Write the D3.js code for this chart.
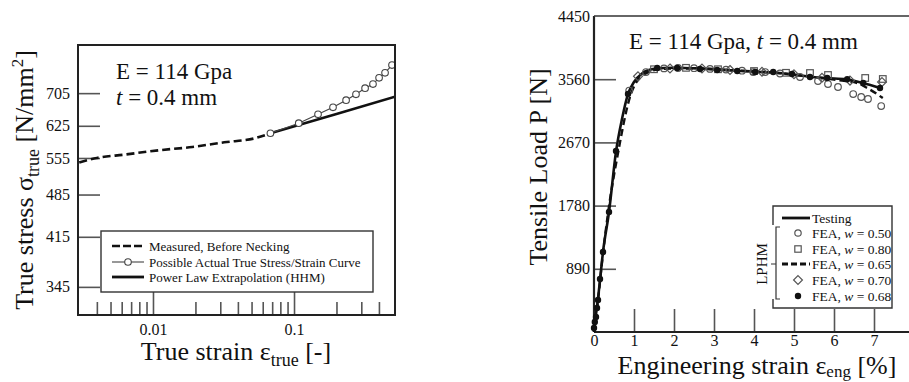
<!DOCTYPE html>
<html>
<head>
<meta charset="utf-8">
<script src="https://cdn.jsdelivr.net/npm/d3@7"></script>
<style>
  body { margin: 0; background: #fff; }
  svg { display: block; font-family: "Liberation Serif", "Times New Roman", serif; }
</style>
</head>
<body>
<div id="wrapper"></div>
<script>
// ---- left panel: true stress vs true strain (log-log) ----
const measuredStrain = [0.003, 0.004, 0.0063, 0.011, 0.019, 0.032, 0.053, 0.068]
const measuredStress = [546, 555, 562, 571, 578, 588, 597, 608]
const actualStrain = [0.068, 0.108, 0.148, 0.189, 0.234, 0.275, 0.319, 0.363, 0.401, 0.442, 0.495]
const actualStress = [608, 631, 652, 669, 687, 702, 718, 729, 746, 760, 782]
const powerStrain = [0.068, 0.2, 0.52]
const powerStress = [608, 653, 696]
const stressTicks = [345, 415, 485, 555, 625, 705]
const strainMajor = [0.01, 0.1]
const strainMinor = [0.004, 0.005, 0.006, 0.007, 0.008, 0.009, 0.02, 0.03, 0.04, 0.05, 0.06, 0.07, 0.08, 0.09, 0.2, 0.3, 0.4]

// ---- right panel: tensile load vs engineering strain ----
const testStrain = [0, 0.05, 0.1, 0.15, 0.225, 0.375, 0.55, 0.7, 0.85, 1.0, 1.2, 1.5, 2.0, 2.6, 3.1, 3.6, 4.0, 4.5, 5.0, 5.4, 5.8, 6.3, 6.7, 7.15]
const testLoad = [0, 250, 470, 730, 1127, 1690, 2540, 3000, 3350, 3520, 3640, 3705, 3722, 3712, 3695, 3680, 3665, 3655, 3625, 3595, 3575, 3560, 3510, 3436]
const w050Strain = [0.88, 1.3, 1.75, 2.1, 2.5, 2.9, 3.3, 3.7, 3.98, 4.28, 4.65, 5.15, 5.6, 5.85, 6.1, 6.48, 6.68, 6.85, 7.18]
const w050Load = [3400, 3661, 3712, 3718, 3715, 3705, 3695, 3680, 3661, 3661, 3640, 3591, 3534, 3492, 3450, 3351, 3309, 3281, 3182]
const w080Strain = [1.5, 2.3, 3.1, 4.0, 4.8, 5.4, 5.85, 6.78, 7.22]
const w080Load = [3700, 3720, 3700, 3675, 3650, 3647, 3619, 3577, 3563]
const w065Strain = [0, 0.1, 0.2, 0.35, 0.6, 0.9, 1.25, 1.7, 2.5, 3.5, 4.5, 5.5, 6.2, 6.58, 6.83, 7.22]
const w065Load = [0, 440, 980, 1670, 2520, 3310, 3625, 3705, 3712, 3685, 3650, 3590, 3540, 3506, 3436, 3295]
const w070Strain = [1.1, 1.9, 2.7, 3.4, 4.2, 5.0, 5.7, 6.4, 7.2]
const w070Load = [3600, 3712, 3710, 3690, 3665, 3630, 3580, 3540, 3520]
const w068Strain = [0, 0.02, 0.05, 0.075, 0.1, 0.15, 0.225, 0.375, 0.55, 0.85, 1.58, 2.08, 2.65, 3.08, 3.58, 4.03, 4.48, 4.95, 5.4, 5.83, 6.33, 6.73, 7.15]
const w068Load = [56, 141, 211, 338, 451, 746, 1127, 1690, 2549, 3352, 3718, 3718, 3704, 3690, 3676, 3661, 3661, 3633, 3591, 3577, 3560, 3506, 3436]
const loadTicks = [890, 1780, 2670, 3560, 4450]
const engTicks = [0, 1, 2, 3, 4, 5, 6, 7]

const zip = (a, b) => a.map((v, i) => [v, b[i]])

const svg = d3.select('#wrapper')
    .append('svg')
    .attr('width', 909)
    .attr('height', 382)
svg.append('rect').attr('width', 909).attr('height', 382).attr('fill', '#fff')

//! left panel
const L = { left: 78, right: 395, top: 45, bottom: 315 }
const xL = d3.scaleLog().domain([0.00294, 0.52]).range([L.left, L.right])
const yL = d3.scaleLog().domain([311, 842]).range([L.bottom, L.top])

const left = svg.append('g')
left.append('defs').append('clipPath').attr('id', 'clipL')
    .append('rect').attr('x', L.left).attr('y', L.top)
    .attr('width', L.right - L.left).attr('height', L.bottom - L.top)

// y ticks pointing inward
const yAxisL = left.append('g')
    .attr('transform', `translate(${L.left},0)`)
    .call(d3.axisLeft(yL).tickValues(stressTicks).tickFormat(d3.format('d')).tickSize(-22).tickPadding(8))
yAxisL.select('.domain').remove()

const xMajorL = left.append('g')
    .attr('transform', `translate(0,${L.bottom})`)
    .call(d3.axisBottom(xL).tickValues(strainMajor).tickFormat(d => d).tickSize(-23).tickPadding(9))
xMajorL.select('.domain').remove()
const xMinorL = left.append('g')
    .attr('transform', `translate(0,${L.bottom})`)
    .call(d3.axisBottom(xL).tickValues(strainMinor).tickFormat('').tickSize(-13))
xMinorL.select('.domain').remove()

left.selectAll('.tick line').attr('stroke', '#555').attr('stroke-width', 1.6)
left.selectAll('.tick text').attr('font-size', 16).attr('fill', '#111')
    .attr('font-family', '"Liberation Serif", serif')

const lineL = d3.line().x(d => xL(d[0])).y(d => yL(d[1]))
const plotL = left.append('g').attr('clip-path', 'url(#clipL)')
plotL.append('path')
    .datum(zip(measuredStrain, measuredStress))
    .attr('d', lineL.curve(d3.curveMonotoneX))
    .attr('fill', 'none').attr('stroke', '#111').attr('stroke-width', 2.6)
    .attr('stroke-dasharray', '8,4')
plotL.append('path')
    .datum(zip(powerStrain, powerStress))
    .attr('d', d3.line().x(d => xL(d[0])).y(d => yL(d[1])))
    .attr('fill', 'none').attr('stroke', '#111').attr('stroke-width', 2.6)
plotL.append('path')
    .datum(zip(actualStrain, actualStress))
    .attr('d', d3.line().x(d => xL(d[0])).y(d => yL(d[1])))
    .attr('fill', 'none').attr('stroke', '#444').attr('stroke-width', 1.1)
plotL.selectAll('.circ')
    .data(zip(actualStrain, actualStress))
    .join('circle')
    .attr('cx', d => xL(d[0])).attr('cy', d => yL(d[1])).attr('r', 3.3)
    .attr('fill', '#fff').attr('stroke', '#444').attr('stroke-width', 1.1)

// frame
left.append('rect')
    .attr('x', L.left).attr('y', L.top)
    .attr('width', L.right - L.left).attr('height', L.bottom - L.top)
    .attr('fill', 'none').attr('stroke', '#222').attr('stroke-width', 2)

// annotation
left.append('text').attr('font-size', 23).attr('fill', '#111')
    .attr('x', 116).attr('y', 79).text('E = 114 Gpa')
const t2 = left.append('text').attr('font-size', 23).attr('fill', '#111').attr('x', 116).attr('y', 105)
t2.append('tspan').attr('font-style', 'italic').text('t')
t2.append('tspan').text(' = 0.4 mm')

// legend
const legL = left.append('g')
legL.append('rect').attr('x', 101).attr('y', 231).attr('width', 272).attr('height', 61)
    .attr('fill', '#fff').attr('stroke', '#333').attr('stroke-width', 1.4)
const legRows = [
    { label: 'Measured, Before Necking', dash: '8,3', w: 2.6, marker: false, y: 246 },
    { label: 'Possible Actual True Stress/Strain Curve', dash: null, w: 1.1, marker: true, y: 262 },
    { label: 'Power Law Extrapolation (HHM)', dash: null, w: 2.8, marker: false, y: 277 },
]
legRows.forEach(r => {
    legL.append('line').attr('x1', 112).attr('x2', 144).attr('y1', r.y).attr('y2', r.y)
        .attr('stroke', r.marker ? '#444' : '#111').attr('stroke-width', r.w)
        .attr('stroke-dasharray', r.dash)
    if (r.marker) {
        legL.append('circle').attr('cx', 128).attr('cy', r.y).attr('r', 3.3)
            .attr('fill', '#fff').attr('stroke', '#444').attr('stroke-width', 1.1)
    }
    legL.append('text').attr('x', 149).attr('y', r.y + 4.5).attr('font-size', 13)
        .attr('fill', '#111').text(r.label)
})

// axis titles
const xtL = left.append('text').attr('x', 236).attr('y', 360).attr('text-anchor', 'middle')
    .attr('font-size', 26).attr('fill', '#111')
xtL.append('tspan').text('True strain ε')
xtL.append('tspan').attr('font-size', 18).attr('dy', 6).text('true')
xtL.append('tspan').attr('dy', -6).text(' [-]')

const ytL = left.append('text').attr('transform', 'translate(33,180) rotate(-90)')
    .attr('text-anchor', 'middle').attr('font-size', 26).attr('fill', '#111')
ytL.append('tspan').text('True stress σ')
ytL.append('tspan').attr('font-size', 18).attr('dy', 6).text('true')
ytL.append('tspan').attr('dy', -6).text(' [N/mm')
ytL.append('tspan').attr('font-size', 17).attr('dy', -10).text('2')
ytL.append('tspan').attr('dy', 10).text(']')

//! right panel
const R = { left: 594, right: 914, top: 16, bottom: 332 }
const xR = d3.scaleLinear().domain([0, 8]).range([R.left, R.right])
const yR = d3.scaleLinear().domain([0, 4450]).range([R.bottom, R.top])

const right = svg.append('g')
const yAxisR = right.append('g')
    .attr('transform', `translate(${R.left},0)`)
    .call(d3.axisLeft(yR).tickValues(loadTicks).tickFormat(d3.format('d')).tickSize(-22).tickPadding(4))
yAxisR.select('.domain').remove()
yAxisR.selectAll('.tick').filter(d => d === 4450).select('line').remove()
const xAxisR = right.append('g')
    .attr('transform', `translate(0,${R.bottom})`)
    .call(d3.axisBottom(xR).tickValues(engTicks).tickFormat(d3.format('d')).tickSize(-23).tickPadding(3))
xAxisR.select('.domain').remove()
right.selectAll('.tick line').attr('stroke', '#555').attr('stroke-width', 1.6)
right.selectAll('.tick text').attr('font-size', 16).attr('fill', '#111')
    .attr('font-family', '"Liberation Serif", serif')

// frame: left & bottom heavy, top thin
right.append('line').attr('x1', R.left).attr('x2', R.left).attr('y1', R.top).attr('y2', R.bottom)
    .attr('stroke', '#222').attr('stroke-width', 2.2)
right.append('line').attr('x1', R.left).attr('x2', R.right).attr('y1', R.bottom).attr('y2', R.bottom)
    .attr('stroke', '#222').attr('stroke-width', 2.2)
right.append('line').attr('x1', R.left).attr('x2', R.right).attr('y1', R.top).attr('y2', R.top)
    .attr('stroke', '#333').attr('stroke-width', 1.6)

const lineR = d3.line().x(d => xR(d[0])).y(d => yR(d[1])).curve(d3.curveMonotoneX)
right.append('path').datum(zip(w065Strain, w065Load)).attr('d', lineR)
    .attr('fill', 'none').attr('stroke', '#111').attr('stroke-width', 2.4).attr('stroke-dasharray', '7,4')
right.append('path').datum(zip(testStrain, testLoad)).attr('d', lineR)
    .attr('fill', 'none').attr('stroke', '#111').attr('stroke-width', 2.6)

right.selectAll('.o50').data(zip(w050Strain, w050Load)).join('circle')
    .attr('cx', d => xR(d[0])).attr('cy', d => yR(d[1])).attr('r', 3.3)
    .attr('fill', 'none').attr('stroke', '#555').attr('stroke-width', 1.2)
right.selectAll('.s80').data(zip(w080Strain, w080Load)).join('rect')
    .attr('x', d => xR(d[0]) - 3.3).attr('y', d => yR(d[1]) - 3.3).attr('width', 6.6).attr('height', 6.6)
    .attr('fill', 'none').attr('stroke', '#555').attr('stroke-width', 1.2)
const diamond = d3.symbol().type(d3.symbolDiamond2).size(50)
right.selectAll('.d70').data(zip(w070Strain, w070Load)).join('path')
    .attr('d', diamond).attr('transform', d => `translate(${xR(d[0])},${yR(d[1])})`)
    .attr('fill', 'none').attr('stroke', '#555').attr('stroke-width', 1.2)
right.selectAll('.f68').data(zip(w068Strain, w068Load)).join('circle')
    .attr('cx', d => xR(d[0])).attr('cy', d => yR(d[1])).attr('r', 3.2)
    .attr('fill', '#111')

// annotation
const annR = right.append('text').attr('x', 629).attr('y', 49).attr('font-size', 23).attr('fill', '#111')
annR.append('tspan').text('E = 114 Gpa, ')
annR.append('tspan').attr('font-style', 'italic').text('t')
annR.append('tspan').text(' = 0.4 mm')

// legend
const legR = right.append('g')
legR.append('rect').attr('x', 773).attr('y', 206).attr('width', 119).attr('height', 102)
    .attr('fill', '#fff').attr('stroke', 'none')
legR.append('path')
    .attr('d', 'M773,225 V206 H892 V308 H773 V299')
    .attr('fill', 'none').attr('stroke', '#333').attr('stroke-width', 1.4)
legR.append('path')
    .attr('d', 'M780,227 H776 V299 H780 M776,264 H771')
    .attr('fill', 'none').attr('stroke', '#333').attr('stroke-width', 1.2)
legR.append('text').attr('transform', 'translate(767,264) rotate(-90)')
    .attr('text-anchor', 'middle').attr('font-size', 15).attr('fill', '#111').text('LPHM')

const legItems = [
    { label: 'Testing', w: null, kind: 'solid', y: 218 },
    { label: 'FEA, ', w: '0.50', kind: 'circle', y: 233 },
    { label: 'FEA, ', w: '0.80', kind: 'square', y: 249 },
    { label: 'FEA, ', w: '0.65', kind: 'dash', y: 264 },
    { label: 'FEA, ', w: '0.70', kind: 'diamond', y: 280 },
    { label: 'FEA, ', w: '0.68', kind: 'dot', y: 296 },
]
legItems.forEach(it => {
    const mx = 798
    if (it.kind === 'solid' || it.kind === 'dash') {
        legR.append('line').attr('x1', 782).attr('x2', 810).attr('y1', it.y).attr('y2', it.y)
            .attr('stroke', '#111').attr('stroke-width', 2.8)
            .attr('stroke-dasharray', it.kind === 'dash' ? '6,3' : null)
    } else if (it.kind === 'circle') {
        legR.append('circle').attr('cx', mx).attr('cy', it.y).attr('r', 3.2)
            .attr('fill', 'none').attr('stroke', '#555').attr('stroke-width', 1.2)
    } else if (it.kind === 'square') {
        legR.append('rect').attr('x', mx - 3.2).attr('y', it.y - 3.2).attr('width', 6.4).attr('height', 6.4)
            .attr('fill', 'none').attr('stroke', '#555').attr('stroke-width', 1.2)
    } else if (it.kind === 'diamond') {
        legR.append('path').attr('d', diamond).attr('transform', `translate(${mx},${it.y})`)
            .attr('fill', 'none').attr('stroke', '#555').attr('stroke-width', 1.2)
    } else {
        legR.append('circle').attr('cx', mx).attr('cy', it.y).attr('r', 3.2).attr('fill', '#111')
    }
    const tx = legR.append('text').attr('x', 812).attr('y', it.y + 5).attr('font-size', 13.5).attr('fill', '#111')
    tx.append('tspan').text(it.label)
    if (it.w) {
        tx.append('tspan').attr('font-style', 'italic').text('w')
        tx.append('tspan').text(' = ' + it.w)
    }
})

// axis titles
const xtR = right.append('text').attr('x', 757).attr('y', 374).attr('text-anchor', 'middle')
    .attr('font-size', 26).attr('fill', '#111')
xtR.append('tspan').text('Engineering strain ε')
xtR.append('tspan').attr('font-size', 17).attr('dy', 3).text('eng')
xtR.append('tspan').attr('dy', -3).text(' [%]')

right.append('text').attr('transform', 'translate(547,167) rotate(-90)')
    .attr('text-anchor', 'middle').attr('font-size', 26).attr('fill', '#111')
    .text('Tensile Load P [N]')
</script>
</body>
</html>
